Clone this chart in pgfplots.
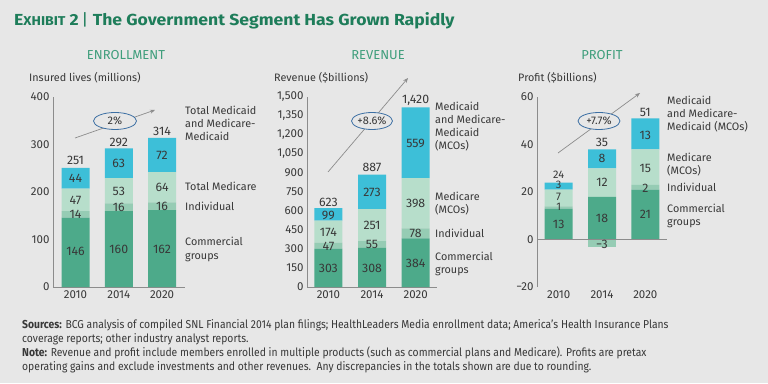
\documentclass[border=0pt]{standalone}
\usepackage{pgfplots}
\pgfplotsset{compat=1.18}
\usepackage{fontspec}
\setmainfont{Fira Sans}
\newfontfamily\footfont[FakeStretch=0.9]{Fira Sans}
\newfontfamily\titlefont[FakeStretch=1.1]{Fira Sans}
\usetikzlibrary{arrows.meta}
\definecolor{bg}{HTML}{E7E7E7}
\definecolor{comm}{HTML}{4DAA8A}
\definecolor{indiv}{HTML}{96CCB4}
\definecolor{mcare}{HTML}{B7DECB}
\definecolor{mcaid}{HTML}{3DBFD8}
\definecolor{ttl}{HTML}{1E7D5A}
\definecolor{ptl}{HTML}{3F9E7C}
\definecolor{txt}{HTML}{383838}
\definecolor{axg}{HTML}{8C8C8C}
\definecolor{ell}{HTML}{3C6FA3}

\pgfplotsset{
  panel/.style={
    scale only axis, height=190pt, anchor=south west,
    ybar stacked, bar width=28pt,
    axis y line*=left, axis x line*=bottom,
    axis line style={draw=axg, line width=0.8pt, -},
    major tick length=0pt,
    xtick={0,1,2}, xticklabels={2010,2014,2020},
    tick label style={font=\fontsize{11.5}{11.5}\selectfont, text=txt},
    /pgf/number format/assume math mode=true,
    clip=false,
  },
  over/.style={scale only axis, height=190pt, anchor=south west, hide axis, clip=false},
}
\newcommand{\vl}[3]{\node[font=\fontsize{12.3}{12.3}\selectfont, text=txt, inner sep=0pt] at (axis cs:#1,#2) {#3};}
\newcommand{\vs}[3]{\node[font=\fontsize{11}{11}\selectfont, text=txt, inner sep=0pt] at (axis cs:#1,#2) {#3};}
\newcommand{\rl}[3]{\node[anchor=west, font=\fontsize{10.8}{10.8}\selectfont, text=txt, inner sep=0pt, text height=7.5pt, text depth=2.5pt] at (#1pt,383pt-#2pt) {#3};}

\begin{document}
\begin{tikzpicture}
\path[use as bounding box, fill=bg] (0pt,0pt) rectangle (768pt,383pt);

% Title
\node[anchor=base west, text=ttl, font=\titlefont\bfseries, inner sep=0pt] at (14pt,357pt)
  {{\fontsize{16}{16}\selectfont E}{\fontsize{12.8}{12.8}\selectfont XHIBIT}{\fontsize{16}{16}\selectfont\ 2\,}{\fontsize{16}{16}\selectfont\mdseries|}{\fontsize{16}{16}\selectfont\ The Government Segment Has Grown Rapidly}};

% Panel titles
\node[anchor=base, text=ptl, font=\fontsize{13}{13}\selectfont, inner sep=0pt] at (126pt,323.7pt) {ENROLLMENT};
\node[anchor=base, text=ptl, font=\fontsize{13}{13}\selectfont, inner sep=0pt] at (378pt,323.7pt) {REVENUE};
\node[anchor=base, text=ptl, font=\fontsize{13}{13}\selectfont, inner sep=0pt] at (602pt,323.7pt) {PROFIT};

% Axis labels
\rl{29}{79}{Insured lives (millions)}
\rl{274}{79}{Revenue (\$billions)}
\rl{518}{79}{Profit (\$billions)}

% ---------------- Enrollment
\begin{axis}[panel, at={(53pt,96pt)}, width=132pt,
  xmin=-0.52, xmax=2.53, ymin=0, ymax=400, ytick={0,100,200,300,400}]
\addplot[fill=comm, draw=none] coordinates {(0,146) (1,160) (2,162)};
\addplot[fill=indiv, draw=none] coordinates {(0,14) (1,16) (2,16)};
\addplot[fill=mcare, draw=none] coordinates {(0,47) (1,53) (2,64)};
\addplot[fill=mcaid, draw=none] coordinates {(0,44) (1,63) (2,72)};
\end{axis}
\begin{axis}[over, at={(53pt,96pt)}, width=132pt, xmin=-0.52, xmax=2.53, ymin=0, ymax=400]
\vl{0}{267}{251}\vl{0}{229}{44}\vl{0}{183}{47}\vl{0}{154}{14}\vl{0}{74}{146}
\vl{1}{305}{292}\vl{1}{261}{63}\vl{1}{202}{53}\vl{1}{168}{16}\vl{1}{80}{160}
\vl{2}{328}{314}\vl{2}{278}{72}\vl{2}{210}{64}\vl{2}{170}{16}\vl{2}{80}{162}
\end{axis}

% ---------------- Revenue
\begin{axis}[panel, at={(307pt,96pt)}, width=130pt,
  xmin=-0.49, xmax=2.49, ymin=0, ymax=1500, ytick={0,150,...,1500},
  yticklabel style={/pgf/number format/.cd, 1000 sep={,}}]
\addplot[fill=comm, draw=none] coordinates {(0,303) (1,308) (2,384)};
\addplot[fill=indiv, draw=none] coordinates {(0,47) (1,55) (2,78)};
\addplot[fill=mcare, draw=none] coordinates {(0,174) (1,251) (2,398)};
\addplot[fill=mcaid, draw=none] coordinates {(0,99) (1,273) (2,559)};
\end{axis}
\begin{axis}[over, at={(307pt,96pt)}, width=130pt, xmin=-0.49, xmax=2.49, ymin=0, ymax=1500]
\vl{0}{671}{623}\vl{0}{568}{99}\vl{0}{434}{174}\vl{0}{324}{47}\vl{0}{150}{303}
\vl{1}{947}{887}\vl{1}{750}{273}\vl{1}{489}{251}\vl{1}{339}{55}\vl{1}{150}{308}
\vl{2}{1476}{1,420}\vl{2}{1137}{559}\vl{2}{663}{398}\vl{2}{426}{78}\vl{2}{189}{384}
\end{axis}

% ---------------- Profit
\begin{axis}[panel, at={(537pt,96pt)}, width=130pt,
  xmin=-0.5, xmax=2.5, ymin=-20, ymax=60, ytick={-20,0,20,40,60},
  yticklabels={−20,0,20,40,60}, x axis line style={draw=none}]
\addplot[fill=comm, draw=none] coordinates {(0,13) (1,18) (2,21)};
\addplot[fill=indiv, draw=none] coordinates {(0,1) (1,0) (2,2)};
\addplot[fill=mcare, draw=none] coordinates {(0,7) (1,12) (2,15)};
\addplot[fill=mcaid, draw=none] coordinates {(0,3) (1,8) (2,13)};
\end{axis}
\begin{axis}[over, at={(537pt,96pt)}, width=130pt,
  xmin=-0.5, xmax=2.5, ymin=-20, ymax=60, ybar, bar width=28pt]
\addplot[fill=indiv, draw=none] coordinates {(1,-3)};
\draw[axg, line width=0.8pt] (axis cs:-0.5,0) -- (axis cs:2.5,0);
\vs{0}{27.3}{24}\vs{0}{23}{3}\vs{0}{18.1}{7}\vs{0}{13.6}{1}\vl{0}{6.3}{13}
\vl{1}{41}{35}\vl{1}{34}{8}\vl{1}{24}{12}\vl{1}{9}{18}\vl{1}{-2}{−3}
\vl{2}{53.5}{51}\vl{2}{44}{13}\vl{2}{30}{15}\vl{2}{21.5}{2}\vl{2}{10.5}{21}
\end{axis}

% Growth arrows and ellipses
\draw[axg, line width=0.7pt, -{Stealth[length=5pt,width=4pt]}] (75pt,245pt) -- (155pt,273pt);
\draw[ell, line width=0.8pt, fill=bg] (115pt,262pt) ellipse (21.5pt and 8.5pt);
\node[text=txt, font=\fontsize{11}{11}\selectfont] at (115pt,262pt) {2\%};
\draw[axg, line width=0.7pt, -{Stealth[length=5pt,width=4pt]}] (328pt,211pt) -- (408pt,305pt);
\draw[ell, line width=0.8pt, fill=bg] (372pt,262pt) ellipse (20.5pt and 8.5pt);
\node[text=txt, font=\fontsize{11}{11}\selectfont] at (372pt,262pt) {+8.6\%};
\draw[axg, line width=0.7pt, -{Stealth[length=5pt,width=4pt]}] (558pt,230pt) -- (640pt,290pt);
\draw[ell, line width=0.8pt, fill=bg] (599pt,262pt) ellipse (21pt and 8.5pt);
\node[text=txt, font=\fontsize{11}{11}\selectfont] at (599pt,262pt) {+7.7\%};

% Right-side segment labels
\rl{185}{112}{Total Medicaid}\rl{185}{125}{and Medicare-}\rl{185}{138}{Medicaid}
\rl{185}{188}{Total Medicare}\rl{185}{208}{Individual}
\rl{185}{243}{Commercial}\rl{185}{257}{groups}
\rl{435}{108}{Medicaid}\rl{435}{121}{and Medicare-}\rl{435}{134}{Medicaid}\rl{435}{147}{(MCOs)}
\rl{435}{198}{Medicare}\rl{435}{211}{(MCOs)}\rl{435}{235}{Individual}
\rl{435}{258}{Commercial}\rl{435}{271}{groups}
\rl{667}{102}{Medicaid}\rl{667}{115}{and Medicare-}\rl{667}{128}{Medicaid (MCOs)}
\rl{667}{159}{Medicare}\rl{667}{172}{(MCOs)}\rl{667}{189}{Individual}
\rl{667}{210}{Commercial}\rl{667}{223}{groups}

% Footer
\begin{scope}[every node/.style={anchor=base west, inner sep=0pt, text=txt, font=\footfont\fontsize{11.5}{11.5}\selectfont}]
\node at (22pt,55pt) {\textbf{Sources:} BCG analysis of compiled SNL Financial 2014 plan filings; HealthLeaders Media enrollment data; America’s Health Insurance Plans};
\node at (22pt,41pt) {coverage reports; other industry analyst reports.};
\node at (22pt,27pt) {\textbf{Note:} Revenue and profit include members enrolled in multiple products (such as commercial plans and Medicare). Profits are pretax};
\node at (22pt,13pt) {operating gains and exclude investments and other revenues.\ \ Any discrepancies in the totals shown are due to rounding.};
\end{scope}
\end{tikzpicture}
\end{document}
